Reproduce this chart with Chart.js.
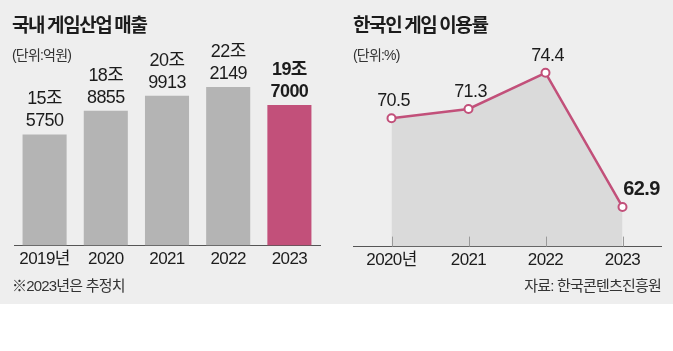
<!DOCTYPE html>
<html>
<head>
<meta charset="utf-8">
<script src="https://cdn.jsdelivr.net/npm/chart.js@4.4.1/dist/chart.umd.min.js"></script>
<style>
    body { margin: 0; background: #fff; width: 673px; height: 351px; overflow: hidden; }
    #panel { position: absolute; left: 0; top: 0; width: 673px; height: 304px; background: #eeeeee; }
    .txt { position: absolute; color: #1c1c1c; white-space: nowrap;
           font-family: 'Liberation Sans', 'Noto Sans CJK KR', sans-serif; }
    .title { font-family: 'Noto Sans CJK KR', sans-serif; font-weight: 700; font-size: 19px; letter-spacing: -1.4px; top: 10px; }
    .unit { font-size: 14px; color: #333; top: 44px; letter-spacing: -0.8px; }
    .note { font-size: 15px; color: #333; top: 274px; letter-spacing: -0.8px; }
    canvas { position: absolute; top: 0; }
</style>
</head>
<body>
<div id="panel">
    <canvas id="salesChart" width="336" height="304" style="left:0"></canvas>
    <canvas id="usageChart" width="337" height="304" style="left:336px"></canvas>
    <div class="txt title" style="left:12px">국내 게임산업 매출</div>
    <div class="txt unit" style="left:12px">(단위:억원)</div>
    <div class="txt note" style="left:12px">※2023년은 추정치</div>
    <div class="txt title" style="left:353px">한국인 게임 이용률</div>
    <div class="txt unit" style="left:353px">(단위:%)</div>
    <div class="txt note" style="right:12px">자료: 한국콘텐츠진흥원</div>
</div>
<script>
// 국내 게임산업 매출 (억원)
const salesYears = ['2019년', '2020', '2021', '2022', '2023'];
const salesValues = [155750, 188855, 209913, 222149, 197000];

// 한국인 게임 이용률 (%)
const usageYears = ['2020년', '2021', '2022', '2023'];
const usageValues = [70.5, 71.3, 74.4, 62.9];

const FONT = "'Liberation Sans', 'Noto Sans CJK KR', sans-serif";
const PINK = '#c2507a';
const GREY_BAR = '#b4b4b4';
const TEXT = '#1c1c1c';

Chart.defaults.font.family = FONT;
Chart.defaults.color = TEXT;

// slightly condensed text, like the newspaper font
const tightText = {
    id: 'tightText',
    beforeDraw(chart) {
        chart.ctx.letterSpacing = '-0.6px';
    }
};

// value labels "15조 / 5750" above each bar
const barLabels = {
    id: 'barLabels',
    afterDatasetsDraw(chart) {
        const ctx = chart.ctx;
        const bars = chart.getDatasetMeta(0).data;
        ctx.save();
        ctx.textAlign = 'center';
        ctx.textBaseline = 'middle';
        ctx.fillStyle = TEXT;
        bars.forEach((bar, i) => {
            const v = salesValues[i];
            const last = i === salesValues.length - 1;
            ctx.font = (last ? 'bold ' : '') + '18px ' + FONT;
            ctx.fillText(Math.floor(v / 10000) + '조', bar.x, bar.y - 35);
            ctx.fillText(String(v % 10000), bar.x, bar.y - 13);
        });
        ctx.restore();
    }
};

// small tick marks above the axis + point labels
const lineExtras = {
    id: 'lineExtras',
    afterDatasetsDraw(chart) {
        const ctx = chart.ctx;
        const xScale = chart.scales.x;
        const bottom = chart.chartArea.bottom;
        ctx.save();
        ctx.strokeStyle = '#9a9a9a';
        ctx.lineWidth = 1;
        usageYears.forEach((y, i) => {
            const x = Math.round(xScale.getPixelForValue(i)) + 0.5;
            ctx.beginPath();
            ctx.moveTo(x, bottom - 10);
            ctx.lineTo(x, bottom);
            ctx.stroke();
        });
        const pts = chart.getDatasetMeta(0).data;
        ctx.textAlign = 'center';
        ctx.textBaseline = 'middle';
        ctx.fillStyle = TEXT;
        pts.forEach((p, i) => {
            const last = i === usageValues.length - 1;
            ctx.font = (last ? 'bold 20px ' : '18px ') + FONT;
            ctx.fillText(usageValues[i].toFixed(1), p.x + (last ? 19 : 2), p.y - 17);
        });
        ctx.restore();
    }
};

const xAxis = {
    grid: { display: false, drawTicks: false },
    border: { display: true, color: '#555', width: 1 },
    ticks: { font: { size: 17 }, color: TEXT, padding: 4, maxRotation: 0, autoSkip: false }
};

new Chart(document.getElementById('salesChart'), {
    type: 'bar',
    data: {
        labels: salesYears,
        datasets: [{
            data: salesValues,
            backgroundColor: salesValues.map((v, i) => i === salesValues.length - 1 ? PINK : GREY_BAR),
            barPercentage: 0.72,
            categoryPercentage: 1
        }]
    },
    options: {
        responsive: false,
        animation: false,
        devicePixelRatio: 1,
        layout: { padding: { left: 14, right: 16, top: 60, bottom: 30 } },
        plugins: { legend: { display: false }, tooltip: { enabled: false } },
        scales: {
            x: xAxis,
            y: { display: false, min: 0, max: 260000 }
        }
    },
    plugins: [tightText, barLabels]
});

new Chart(document.getElementById('usageChart'), {
    type: 'line',
    data: {
        labels: usageYears,
        datasets: [{
            data: usageValues,
            borderColor: PINK,
            borderWidth: 2.5,
            backgroundColor: '#dadada',
            fill: 'start',
            tension: 0,
            pointRadius: 4,
            pointBorderWidth: 2,
            pointBorderColor: PINK,
            pointBackgroundColor: '#fff'
        }]
    },
    options: {
        responsive: false,
        animation: false,
        devicePixelRatio: 1,
        layout: { padding: { left: 17, right: 12, top: 60, bottom: 29 } },
        plugins: { legend: { display: false }, tooltip: { enabled: false } },
        scales: {
            x: Object.assign({}, xAxis, { offset: true }),
            y: { display: false, min: 59.5, max: 75.5 }
        }
    },
    plugins: [tightText, lineExtras]
});
</script>
</body>
</html>
